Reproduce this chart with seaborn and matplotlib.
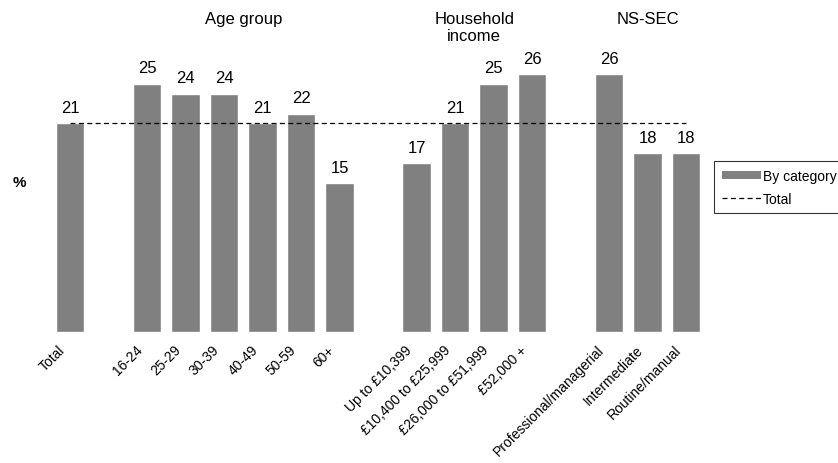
import pandas as pd
import numpy as np
import matplotlib
matplotlib.use("Agg")
import matplotlib.pyplot as plt
import matplotlib.transforms as mtransforms
import seaborn as sns
from matplotlib.patches import Patch
from matplotlib.lines import Line2D

sns.set_theme(style="white")
plt.rcParams["font.family"] = ["Liberation Sans", "DejaVu Sans"]
plt.rcParams["text.color"] = "black"
plt.rcParams["xtick.color"] = "black"

# data
total_label = ["Total"]
total_value = [21]
age_labels = ["16-24", "25-29", "30-39", "40-49", "50-59", "60+"]
age_values = [25, 24, 24, 21, 22, 15]
income_labels = ["Up to £10,399", "£10,400 to £25,999", "£26,000 to £51,999", "£52,000 +"]
income_values = [17, 21, 25, 26]
nssec_labels = ["Professional/managerial", "Intermediate", "Routine/manual"]
nssec_values = [26, 18, 18]
group_titles = ["Age group", "Household\nincome", "NS-SEC"]

df = pd.DataFrame({
    "category": total_label + age_labels + income_labels + nssec_labels,
    "value": total_value + age_values + income_values + nssec_values,
})

# blank slots separate the groups
order = total_label + ["_gap1"] + age_labels + ["_gap2"] + income_labels + ["_gap3"] + nssec_labels
groups = [age_labels, income_labels, nssec_labels]

fig = plt.figure(figsize=(8.38, 4.64), dpi=100)
ax = fig.add_axes([0.056, 0.2823, 0.7902, 0.642])

sns.barplot(data=df, x="category", y="value", order=order, color="#808080",
            saturation=1, width=0.73, ax=ax)

for c in ax.containers:
    ax.bar_label(c, fmt="%d", padding=6, fontsize=12, color="black")

ax.hlines(total_value[0], 0, len(order) - 1, colors="black", linewidth=0.9,
          linestyles=(0, (4, 2.7)))

ax.set_xlim(-0.6, len(order) - 1 + 0.6)
ax.set_ylim(0, 30)
ax.set_xticks(range(len(order)))
ax.set_xticklabels(["" if o.startswith("_gap") else o for o in order],
                   rotation=45, ha="right", va="center", rotation_mode="anchor", fontsize=10)
ax.tick_params(axis="x", length=0, pad=11)
shift = mtransforms.ScaledTranslation(-0.07, 0, fig.dpi_scale_trans)
for lab in ax.get_xticklabels():
    lab.set_transform(lab.get_transform() + shift)
ax.set_yticks([])
ax.set_xlabel("")
ax.set_ylabel("")
for s in ax.spines.values():
    s.set_visible(False)

for title, labels in zip(group_titles, groups):
    xs = [order.index(l) for l in labels]
    ax.text(np.mean(xs), 32.3, title, ha="center", va="top", fontsize=12,
            linespacing=1.15, clip_on=False)

fig.text(0.023, 0.605, "%", ha="center", va="center", fontsize=11, fontweight="bold")

handles = [Patch(facecolor="#808080", edgecolor="none", label="By category"),
           Line2D([0], [0], color="black", linewidth=0.9, linestyle=(0, (4, 2.7)), label="Total")]
leg = fig.legend(handles=handles, loc="upper left", bbox_to_anchor=(0.852, 0.651),
                 frameon=True, fancybox=False, fontsize=10, handlelength=2.8,
                 handleheight=0.5, handletextpad=0.15, borderpad=0.55, labelspacing=0.65,
                 borderaxespad=0)
leg.get_frame().set_edgecolor("black")
leg.get_frame().set_linewidth(0.8)

fig.savefig("out.png", dpi=100)
